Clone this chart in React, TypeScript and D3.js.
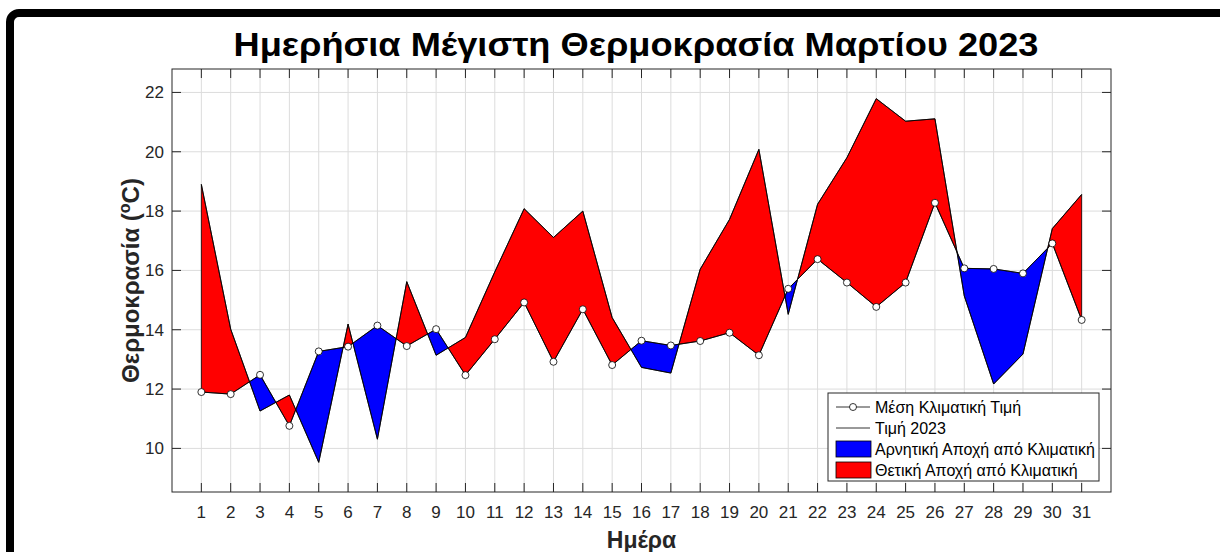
import React from "react";
import * as d3 from "d3";

const days = [1,2,3,4,5,6,7,8,9,10,11,12,13,14,15,16,17,18,19,20,21,22,23,24,25,26,27,28,29,30,31];
const climate = [11.9, 11.83, 12.48, 10.76, 13.27, 13.43, 14.14, 13.45, 14.02, 12.47, 13.68, 14.92, 12.92, 14.69, 12.81, 13.63, 13.47, 13.62, 13.9, 13.14, 15.38, 16.38, 15.59, 14.77, 15.59, 18.28, 16.07, 16.05, 15.9, 16.91, 14.33];
const temp2023 = [18.9, 14.02, 11.26, 11.8, 9.53, 14.19, 10.31, 15.62, 13.14, 13.74, 15.95, 18.08, 17.11, 18.0, 14.41, 12.73, 12.54, 16.04, 17.72, 20.08, 14.52, 18.23, 19.8, 21.79, 21.03, 21.11, 15.14, 12.17, 13.18, 17.41, 18.56];
const yTicks = [10, 12, 14, 16, 18, 20, 22];
const titleText = "Ημερήσια Μέγιστη Θερμοκρασία Μαρτίου 2023";
const xLabelText = "Ημέρα";
const legendLabels = ["Μέση Κλιματική Τιμή", "Τιμή 2023", "Αρνητική Αποχή από Κλιματική", "Θετική Αποχή από Κλιματική"];

const W = 1220, H = 552;
const L = 172, R = 1111, T = 69, B = 492;
const AX = "#262626";
const FONT = "'Liberation Sans', Arial, Helvetica, sans-serif";

type P = { x: number; t: number; c: number };

export default function App() {
  const allVals = [...climate, ...temp2023];
  const yMin = (d3.min(allVals) as number) - 1;
  const yMax = (d3.max(allVals) as number) + 1;
  const x = d3.scaleLinear().domain([0, 32]).range([L, R]);
  const y = d3.scaleLinear().domain([yMin, yMax]).range([B, T]);

  const pts: (P & { cross?: boolean })[] = [];
  const n = days.length;
  for (let i = 0; i < n; i++) {
    pts.push({ x: days[i], t: temp2023[i], c: climate[i] });
    if (i < n - 1) {
      const d0 = temp2023[i] - climate[i];
      const d1 = temp2023[i + 1] - climate[i + 1];
      if (d0 * d1 < 0) {
        const f = d0 / (d0 - d1);
        const xv = days[i] + f * (days[i + 1] - days[i]);
        const v = temp2023[i] + f * (temp2023[i + 1] - temp2023[i]);
        pts.push({ x: xv, t: v, c: v, cross: true });
      }
    }
  }
  const runs: { pts: P[]; pos: boolean }[] = [];
  let cur: P[] = [];
  pts.forEach((p, i) => {
    cur.push(p);
    if ((p.cross && cur.length > 1) || i === pts.length - 1) {
      const s = d3.sum(cur, (q) => q.t - q.c);
      runs.push({ pts: cur, pos: s > 0 });
      cur = [p];
    }
  });

  const polyLine = d3.line<[number, number]>().x((d) => x(d[0])).y((d) => y(d[1]));
  const polys = runs.map((r) => {
    const coords: [number, number][] = [
      ...r.pts.map((p) => [p.x, p.t] as [number, number]),
      ...r.pts.slice().reverse().map((p) => [p.x, p.c] as [number, number]),
    ];
    return { d: polyLine(coords) + "Z", pos: r.pos };
  });

  const lineGen = d3.line<number>().x((_, i) => x(days[i])).y((d) => y(d));

  const legX = 828, legY = 393, legW = 271, legH = 88;
  const rowY = [407, 428, 449, 470];

  return (
    <svg width={W} height={H} style={{ position: "absolute", left: 0, top: 0, background: "#fff" }} fontFamily={FONT}>
      <rect x={0} y={0} width={W} height={H} fill="#fff" />
      <rect x={10} y={13} width={1400} height={800} rx={9} fill="#fff" stroke="#000" strokeWidth={8} />

      <g stroke="#dcdcdc" strokeWidth={1}>
        {days.map((d) => (
          <line key={"gx" + d} x1={x(d)} x2={x(d)} y1={T} y2={B} />
        ))}
        {yTicks.map((v) => (
          <line key={"gy" + v} x1={L} x2={R} y1={y(v)} y2={y(v)} />
        ))}
      </g>

      {polys.map((p, i) => (
        <path key={"poly" + i} d={p.d} fill={p.pos ? "#ff0000" : "#0000ff"} stroke="#000" strokeWidth={0.8} strokeLinejoin="round" />
      ))}

      <path d={lineGen(temp2023) || ""} fill="none" stroke="#000" strokeWidth={0.8} />
      <path d={lineGen(climate) || ""} fill="none" stroke="#000" strokeWidth={0.8} />
      {climate.map((v, i) => (
        <circle key={"m" + i} cx={x(days[i])} cy={y(v)} r={3.5} fill="#fff" stroke="#000" strokeWidth={0.8} />
      ))}

      <rect x={L} y={T} width={R - L} height={B - T} fill="none" stroke={AX} strokeWidth={1} />
      <g stroke={AX} strokeWidth={1}>
        {days.map((d) => (
          <g key={"tx" + d}>
            <line x1={x(d)} x2={x(d)} y1={B} y2={B - 9} />
            <line x1={x(d)} x2={x(d)} y1={T} y2={T + 9} />
          </g>
        ))}
        {yTicks.map((v) => (
          <g key={"ty" + v}>
            <line x1={L} x2={L + 9} y1={y(v)} y2={y(v)} />
            <line x1={R} x2={R - 9} y1={y(v)} y2={y(v)} />
          </g>
        ))}
      </g>
      <g fill={AX} fontSize={17}>
        {days.map((d) => (
          <text key={"lx" + d} x={x(d)} y={518} textAnchor="middle">{d}</text>
        ))}
        {yTicks.map((v) => (
          <text key={"ly" + v} x={164} y={y(v) + 6} textAnchor="end">{v}</text>
        ))}
      </g>

      <text x={636} y={56} textAnchor="middle" fontSize={33} fontWeight="bold" fill="#000" textLength={805} lengthAdjust="spacingAndGlyphs">{titleText}</text>
      <text x={641.5} y={548} textAnchor="middle" fontSize={23} fontWeight="bold" fill={AX}>{xLabelText}</text>
      <text transform={`translate(139,${(T + B) / 2}) rotate(-90)`} textAnchor="middle" fontSize={24} fontWeight="bold" fill={AX}>
        Θερμοκρασία (<tspan fontSize={16} dy={-9}>o</tspan><tspan dy={9}>C)</tspan>
      </text>

      <rect x={legX} y={legY} width={legW} height={legH} fill="#fff" stroke={AX} strokeWidth={1} />
      <line x1={836} x2={870} y1={rowY[0]} y2={rowY[0]} stroke="#000" strokeWidth={0.8} />
      <circle cx={853} cy={rowY[0]} r={3.5} fill="#fff" stroke="#000" strokeWidth={0.8} />
      <line x1={836} x2={870} y1={rowY[1]} y2={rowY[1]} stroke="#000" strokeWidth={0.8} />
      <rect x={836} y={rowY[2] - 8} width={35} height={16} fill="#0000ff" stroke="#000" strokeWidth={0.8} />
      <rect x={836} y={rowY[3] - 8} width={35} height={16} fill="#ff0000" stroke="#000" strokeWidth={0.8} />
      <g fill="#000" fontSize={16}>
        {legendLabels.map((s, i) => (
          <text key={"leg" + i} x={875} y={rowY[i] + 6}>{s}</text>
        ))}
      </g>
    </svg>
  );
}
